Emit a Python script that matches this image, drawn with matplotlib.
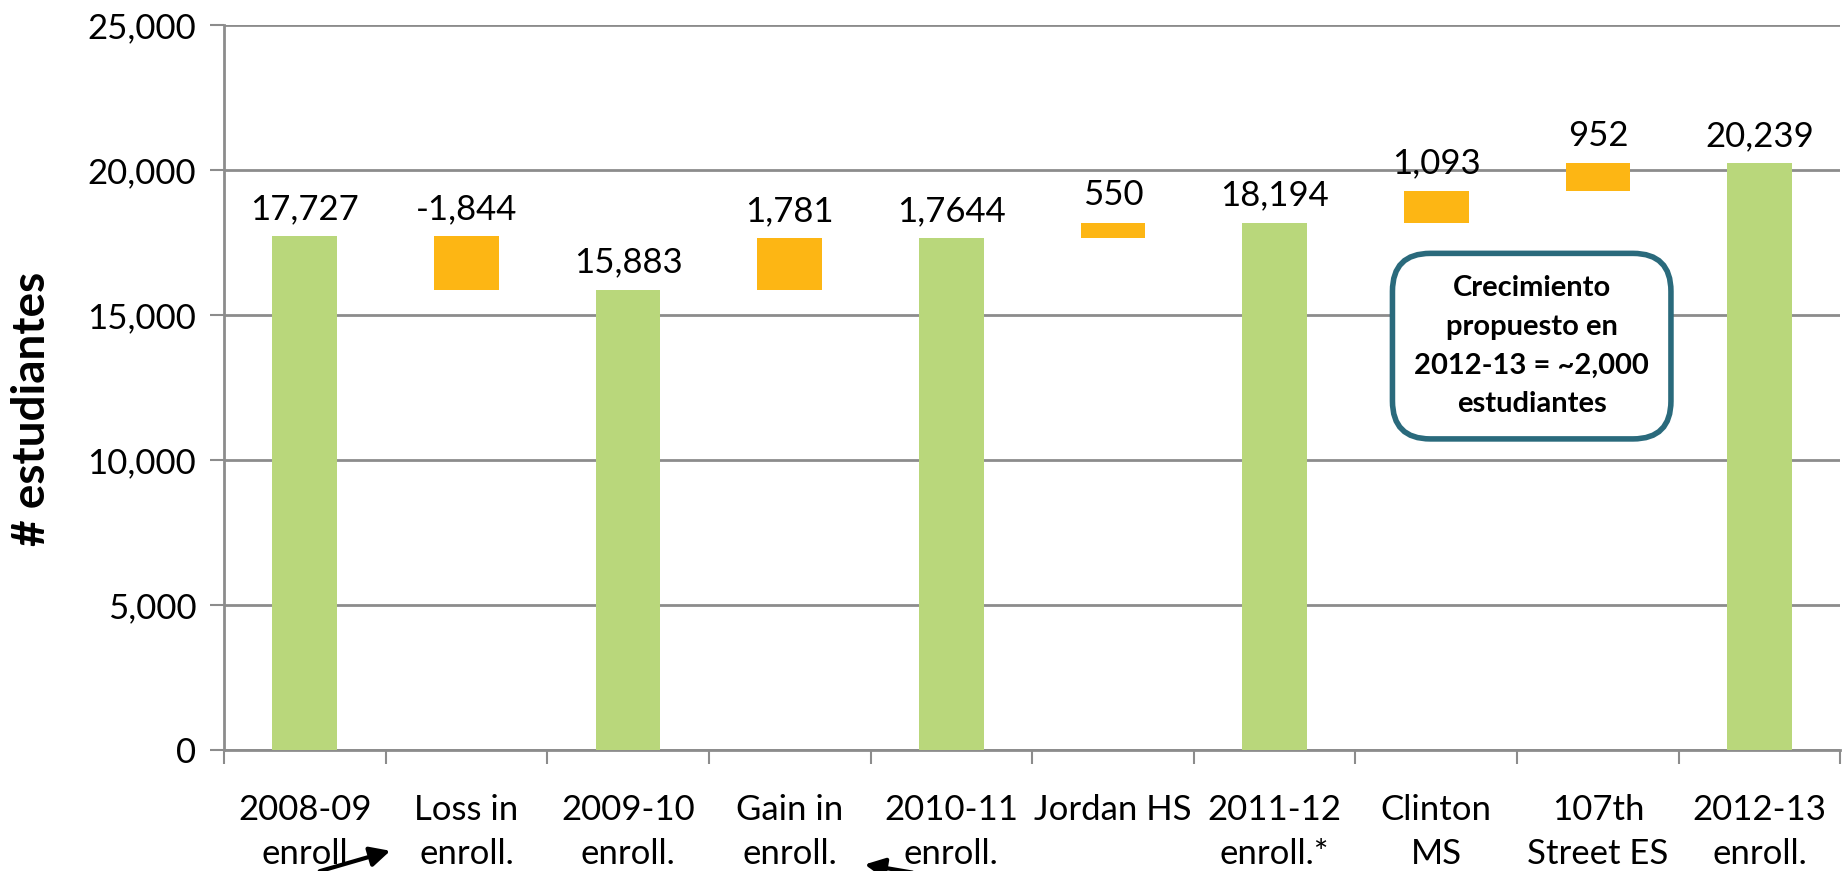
import matplotlib
matplotlib.use('Agg')
import matplotlib.pyplot as plt
import numpy as np

# categories along the x axis
categories = ['2008-09\nenroll', 'Loss in\nenroll.', '2009-10\nenroll.', 'Gain in\nenroll.',
              '2010-11\nenroll.', 'Jordan HS', '2011-12\nenroll.*', 'Clinton\nMS',
              '107th\nStreet ES', '2012-13\nenroll.']
# bar kind: 't' = total (green), 'c' = change (orange)
kinds = ['t', 'c', 't', 'c', 't', 'c', 't', 'c', 'c', 't']
# bottom and top of each bar
bottoms = [0, 15883, 0, 15883, 0, 17644, 0, 18194, 19287, 0]
tops = [17727, 17727, 15883, 17664, 17644, 18194, 18194, 19287, 20239, 20239]
labels = ['17,727', '-1,844', '15,883', '1,781', '1,7644', '550', '18,194', '1,093', '952', '20,239']

green = '#B9D77B'
orange = '#FDB614'
grid_c = '#8C8C8C'

plt.rcParams['font.family'] = ['Lato', 'DejaVu Sans']

fig = plt.figure(figsize=(18.46, 8.71), dpi=100)
ax = fig.add_axes([0.1213, 0.139, 0.8757, 0.832])

x = np.arange(len(categories))
heights = np.array(tops) - np.array(bottoms)
colors = [green if k == 't' else orange for k in kinds]
ax.bar(x, heights, bottom=bottoms, width=0.4, color=colors, zorder=3)

for xi, top, lab in zip(x, tops, labels):
    ax.annotate(lab, (xi, top), xytext=(0, 8), textcoords='offset points',
                ha='center', va='bottom', fontsize=25)

ax.set_xlim(-0.5, len(categories) - 0.5)
ax.set_ylim(0, 25000)
ax.set_yticks(np.arange(0, 25001, 5000))
ax.set_yticklabels(['{:,}'.format(v) for v in range(0, 25001, 5000)], fontsize=25)
ax.yaxis.grid(True, color=grid_c, linewidth=2, zorder=0)

ax.set_xticks(x)
ax.set_xticklabels(categories, fontsize=25, linespacing=1.45)
ax.set_xticks(np.arange(-0.5, len(categories), 1), minor=True)
ax.tick_params(axis='x', which='major', length=0, pad=32)
ax.tick_params(axis='x', which='minor', length=10, width=1.5, color=grid_c, direction='out')
ax.tick_params(axis='y', length=10, width=1.5, color=grid_c, pad=10)

for s in ['top', 'right']:
    ax.spines[s].set_visible(False)
for s in ['left', 'bottom']:
    ax.spines[s].set_color(grid_c)
    ax.spines[s].set_linewidth(2)

ax.set_ylabel('# estudiantes', fontsize=33, fontweight='bold')
ax.yaxis.set_label_coords(-0.106, 0.471)

ax.text(7.59, 13930, 'Crecimiento\npropuesto en\n2012-13 = ~2,000\nestudiantes',
        ha='center', va='center', fontsize=21, fontweight='bold', linespacing=1.6,
        bbox=dict(boxstyle='round,pad=0.75,rounding_size=1.3', fc='white', ec='#2A6A7C', lw=4),
        zorder=5)

# arrows cut off at the bottom edge
fig.patches.append(matplotlib.patches.FancyArrowPatch(
    (317 / 1846, 1 - 872 / 871), (393 / 1846, 1 - 850 / 871), transform=fig.transFigure,
    arrowstyle='-|>,head_length=12,head_width=6', lw=3, color='black'))
fig.patches.append(matplotlib.patches.FancyArrowPatch(
    (915 / 1846, 1 - 873 / 871), (862 / 1846, 1 - 864 / 871), transform=fig.transFigure,
    arrowstyle='-|>,head_length=12,head_width=6', lw=3, color='black'))

fig.savefig('out.png', dpi=100)
